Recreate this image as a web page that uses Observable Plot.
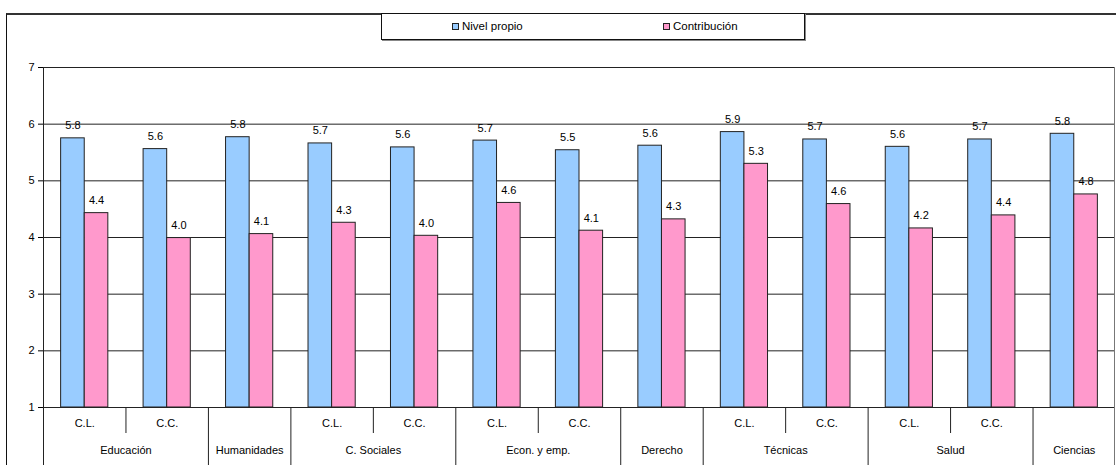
<!DOCTYPE html>
<html>
<head>
<meta charset="utf-8">
<script src="https://cdn.jsdelivr.net/npm/d3@7"></script>
<script src="https://cdn.jsdelivr.net/npm/@observablehq/plot@0.6"></script>
<style>
  html, body { margin: 0; padding: 0; background: #fff; }
  body { width: 1116px; height: 465px; position: relative; overflow: hidden;
         font-family: "Liberation Sans", Arial, sans-serif; }
  #chart { position: absolute; left: 0; top: 0; }
  #border { position: absolute; left: 6px; top: 13px; width: 1200px; height: 600px;
            border-left: 1.5px solid #111; border-top: 2px solid #333; box-sizing: border-box; pointer-events: none; }
  #legend { position: absolute; left: 381px; top: 13px; width: 424px; height: 27px; box-sizing: border-box;
            border: 1px solid #111; background: #fff; box-shadow: 1px 1px 0 #888;
            font-size: 11.5px; color: #000; }
  .item { position: absolute; top: 0; height: 25px; line-height: 25px; white-space: nowrap; }
  .sw { display: inline-block; width: 5px; height: 5px; border: 1px solid #222; margin-right: 3px; vertical-align: 0px; }
</style>
</head>
<body>
<div id="chart"></div>
<div id="border"></div>
<div id="legend"></div>
<script>
// ---- data ----
const groups = ["Educación","Educación","Humanidades","C. Sociales","C. Sociales","Econ. y emp.","Econ. y emp.","Derecho","Técnicas","Técnicas","Salud","Salud","Ciencias"];
const subs = ["C.L.","C.C.","","C.L.","C.C.","C.L.","C.C.","","C.L.","C.C.","C.L.","C.C.",""];
const nivelPropio = [5.75,5.56,5.77,5.66,5.59,5.71,5.54,5.62,5.86,5.73,5.60,5.73,5.83];
const contribucion = [4.43,3.99,4.06,4.26,4.03,4.61,4.12,4.32,5.30,4.59,4.16,4.39,4.76];
const seriesNames = ["Nivel propio","Contribución"];
const seriesColors = ["#99CCFF","#FF99CC"];
const yTicks = [1,2,3,4,5,6,7];

// ---- layout ----
const W = 1116, H = 465;
const mL = 43, mR = 1, mT = 67, mB = 58;
const n = groups.length;
const step = (W - mL - mR) / n;
const barW = 23.6;
const gapOuter = (step - 2 * barW) / 2;

const rows = groups.map((g, i) => ({i, group: g, sub: subs[i], nivel: nivelPropio[i], contrib: contribucion[i]}));

// group spans
const spans = [];
rows.forEach(r => {
  const last = spans[spans.length - 1];
  if (last && last.group === r.group) last.count++;
  else spans.push({group: r.group, first: r.i, count: 1});
});
const spans1 = spans.filter(s => s.count === 1).map(s => ({x: s.first, group: s.group}));
const spans2 = spans.filter(s => s.count === 2).map(s => ({x: s.first + 1, group: s.group}));

// boundaries between slots
const shortB = [], longB = [];
for (let i = 1; i < n; i++) {
  if (groups[i] === groups[i - 1]) shortB.push(i); else longB.push(i);
}

const fmt = d3.format(".1f");
const ink = "#222";

const plot = Plot.plot({
  width: W, height: H,
  marginLeft: mL, marginRight: mR, marginTop: mT, marginBottom: mB,
  style: {fontFamily: '"Liberation Sans", Arial, sans-serif', fontSize: "11px", color: "#000", background: "transparent"},
  x: {type: "band", domain: d3.range(n), padding: 0, round: false, axis: null},
  y: {domain: [1, 7], ticks: yTicks, tickSize: 5, tickPadding: 4, label: null, tickFormat: d3.format("d")},
  marks: [
    Plot.ruleY(yTicks, {stroke: ink, strokeWidth: 1}),
    Plot.barY(rows, {x: "i", y1: 1, y2: "nivel", fill: seriesColors[0], stroke: ink, strokeWidth: 1,
      insetLeft: gapOuter, insetRight: step / 2}),
    Plot.barY(rows, {x: "i", y1: 1, y2: "contrib", fill: seriesColors[1], stroke: ink, strokeWidth: 1,
      insetLeft: step / 2, insetRight: gapOuter}),
    Plot.text(rows, {x: "i", y: "nivel", text: d => fmt(d.nivel), dx: -barW / 2, dy: -9, lineAnchor: "bottom", fill: "#000"}),
    Plot.text(rows, {x: "i", y: "contrib", text: d => fmt(d.contrib), dx: barW / 2, dy: -9, lineAnchor: "bottom", fill: "#000"}),
    // axes lines
    Plot.ruleX([0], {x: d => d, dx: -step / 2, stroke: ink, insetBottom: -mB}),
    Plot.ruleX([n - 1], {x: d => d, dx: step / 2 - 1, stroke: "#777", insetBottom: -mB}),
    Plot.ruleX(shortB, {x: d => d, dx: -step / 2, y1: 1, y2: 1, stroke: ink, insetBottom: -26}),
    Plot.ruleX(longB, {x: d => d, dx: -step / 2, y1: 1, y2: 1, stroke: ink, insetBottom: -mB}),
    // category labels
    Plot.text(rows.filter(r => r.sub), {x: "i", text: "sub", frameAnchor: "bottom", dy: 19, fill: "#000"}),
    Plot.text(spans1, {x: "x", text: "group", frameAnchor: "bottom", dy: 46, fill: "#000"}),
    Plot.text(spans2, {x: "x", text: "group", frameAnchor: "bottom", dy: 46, dx: -step / 2, fill: "#000"})
  ]
});
document.getElementById("chart").appendChild(plot);

// legend
const legend = document.getElementById("legend");
const legendX = [70, 281];
seriesNames.forEach((name, k) => {
  const it = document.createElement("div");
  it.className = "item";
  it.style.left = legendX[k] + "px";
  const sw = document.createElement("span");
  sw.className = "sw";
  sw.style.background = seriesColors[k];
  it.appendChild(sw);
  it.appendChild(document.createTextNode(name));
  legend.appendChild(it);
});
</script>
</body>
</html>
